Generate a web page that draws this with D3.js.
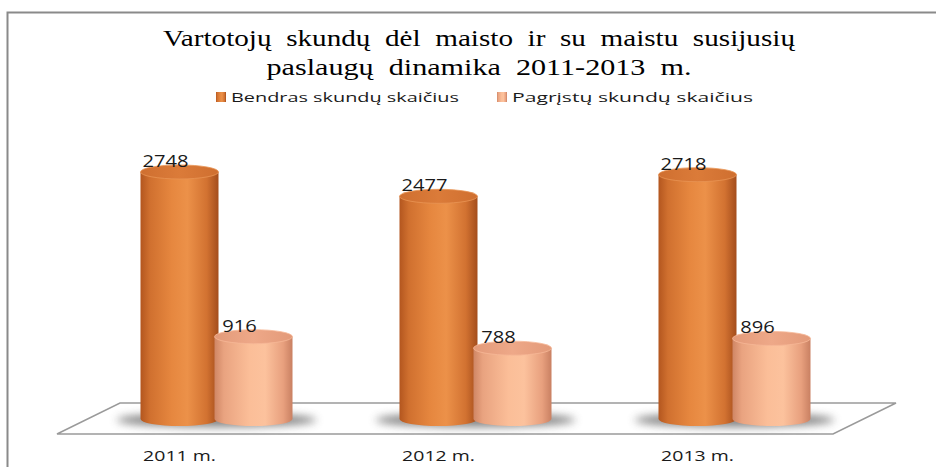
<!DOCTYPE html>
<html>
<head>
<meta charset="utf-8">
<script src="https://cdn.jsdelivr.net/npm/d3@7"></script>
<style>
  body { margin: 0; background: #fff; }
  svg { display: block; }
</style>
</head>
<body>
<script>
// Chart data
var categories = ["2011 m.", "2012 m.", "2013 m."];
var seriesNames = ["Bendras skundų skaičius", "Pagrįstų skundų skaičius"];
var totalValues = [2748, 2477, 2718];
var justifiedValues = [916, 788, 896];
var titleLines = ["Vartotojų  skundų  dėl  maisto  ir  su  maistu  susijusių",
                  "paslaugų  dinamika  2011-2013  m."];

var svgWidth = 936;
var svgHeight = 467;
var SX = 1.3; // horizontal stretch seen in the picture

var svg = d3.select("body").append("svg")
  .attr("width", svgWidth)
  .attr("height", svgHeight);

var defs = svg.append("defs");

// cylinder gradients
function sideGradient(id, stops) {
  var g = defs.append("linearGradient").attr("id", id)
    .attr("x1", "0%").attr("x2", "100%").attr("y1", "0%").attr("y2", "0%");
  stops.forEach(function(s) {
    g.append("stop").attr("offset", s[0]).attr("stop-color", s[1]);
  });
}
sideGradient("gOrange", [["0%", "#b3561f"], ["12%", "#d0702f"], ["40%", "#e6873f"], ["60%", "#ec9149"], ["85%", "#d27231"], ["100%", "#a44d1c"]]);
sideGradient("gPale", [["0%", "#cf8665"], ["12%", "#e9a380"], ["45%", "#fbbe98"], ["65%", "#fcc29d"], ["88%", "#e8a07e"], ["100%", "#c98062"]]);
sideGradient("gOrangeTop", [["0%", "#cf6f30"], ["50%", "#db7b39"], ["100%", "#cf6f30"]]);
sideGradient("gPaleTop", [["0%", "#e39a79"], ["50%", "#eea888"], ["100%", "#e39a79"]]);

defs.append("filter").attr("id", "blur")
  .attr("x", "-50%").attr("y", "-200%").attr("width", "200%").attr("height", "500%")
  .append("feGaussianBlur").attr("stdDeviation", 4);

var sideFill = ["url(#gOrange)", "url(#gPale)"];
var topFill = ["url(#gOrangeTop)", "url(#gPaleTop)"];
var topStroke = ["#e89454", "#f6b897"];

// frame lines
svg.append("path")
  .attr("d", "M7.5,467 L7.5,12.5 L936,12.5")
  .attr("fill", "none")
  .attr("stroke", "#8a8a8a")
  .attr("stroke-width", 2);

// scales
var x = d3.scaleBand().domain(categories).range([87, 864]);
var xInner = d3.scaleBand().domain(seriesNames).range([-74, 74]);
var y = d3.scaleLinear().domain([0, 3000]).range([419, 149.3]);

var barW = 78;
var ry = 7;

// floor
svg.append("path")
  .attr("d", "M57,434 L120,403 L896,403 L833,434 Z")
  .attr("fill", "#fff")
  .attr("stroke", "#9a9a9a")
  .attr("stroke-width", 1.5);

// shadows under bars
svg.selectAll(".shadow")
  .data(categories)
  .enter().append("ellipse")
  .attr("class", "shadow")
  .attr("cx", function(d) { return x(d) + x.bandwidth() / 2; })
  .attr("cy", y(0) + 1)
  .attr("rx", 100)
  .attr("ry", 7)
  .attr("fill", "#6e6e6e")
  .attr("opacity", 0.85)
  .attr("filter", "url(#blur)");

// build bar rows
var rows = [];
categories.forEach(function(c, i) {
  rows.push({ cat: c, s: 0, v: totalValues[i] });
  rows.push({ cat: c, s: 1, v: justifiedValues[i] });
});

function cx(d) {
  return x(d.cat) + x.bandwidth() / 2 + xInner(seriesNames[d.s]) + xInner.bandwidth() / 2;
}

var bars = svg.selectAll(".bar")
  .data(rows)
  .enter().append("g")
  .attr("class", "bar");

// body
bars.append("path")
  .attr("d", function(d) {
    var l = cx(d) - barW / 2, r = cx(d) + barW / 2;
    var t = y(d.v), b = y(0);
    return "M" + l + "," + t + " L" + l + "," + b +
      " A" + (barW / 2) + "," + ry + " 0 0 0 " + r + "," + b +
      " L" + r + "," + t + " Z";
  })
  .attr("fill", function(d) { return sideFill[d.s]; });

// top
bars.append("ellipse")
  .attr("cx", cx)
  .attr("cy", function(d) { return y(d.v); })
  .attr("rx", barW / 2)
  .attr("ry", ry)
  .attr("fill", function(d) { return topFill[d.s]; })
  .attr("stroke", function(d) { return topStroke[d.s]; })
  .attr("stroke-width", 0.8);

// stretched text helper
function stretchedText(sel, px, py, str, size, family, sx) {
  return sel.append("text")
    .attr("transform", "translate(" + px + "," + py + ") scale(" + sx + ",1)")
    .attr("text-anchor", "middle")
    .attr("font-family", family)
    .attr("font-size", size)
    .attr("fill", "#1a1a1a")
    .text(str);
}

// value labels
rows.forEach(function(d) {
  stretchedText(svg, cx(d) - 14, y(d.v) - ry + 2, d.v, "15.5px", "'Open Sans', sans-serif", SX);
});

// category labels
categories.forEach(function(c) {
  stretchedText(svg, x(c) + x.bandwidth() / 2 - 37, 461, c, "15px", "'Open Sans', sans-serif", SX);
});

// title
var titleWidths = [632, 425];
titleLines.forEach(function(t, i) {
  svg.append("text")
    .attr("x", 479 - titleWidths[i] / 2)
    .attr("y", 46 + i * 29)
    .attr("font-family", "'Liberation Serif', 'Times New Roman', serif")
    .attr("font-size", "22.5px")
    .attr("fill", "#000")
    .attr("textLength", titleWidths[i])
    .attr("lengthAdjust", "spacingAndGlyphs")
    .style("white-space", "pre")
    .text(t);
});

// legend
var legendX = [216, 497];
var legendW = [228, 241];
seriesNames.forEach(function(s, i) {
  svg.append("rect")
    .attr("x", legendX[i])
    .attr("y", 92)
    .attr("width", 10)
    .attr("height", 10)
    .attr("fill", sideFill[i]);
  svg.append("text")
    .attr("x", legendX[i] + 15)
    .attr("y", 102)
    .attr("font-family", "'Open Sans', sans-serif")
    .attr("font-size", "13px")
    .attr("fill", "#1a1a1a")
    .attr("textLength", legendW[i])
    .attr("lengthAdjust", "spacingAndGlyphs")
    .text(s);
});
</script>
</body>
</html>
